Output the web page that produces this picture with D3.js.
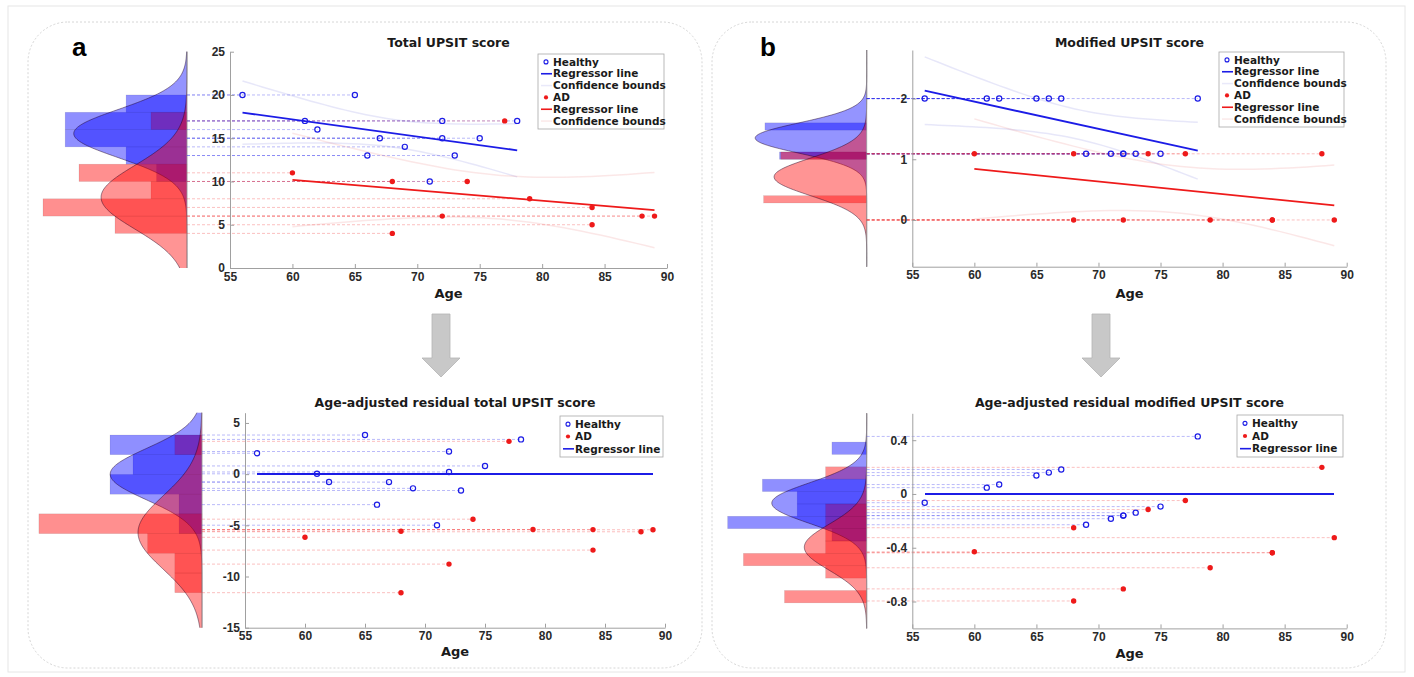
<!DOCTYPE html>
<html><head><meta charset="utf-8">
<script src="https://cdn.jsdelivr.net/npm/d3@7"></script>
<style>
body{margin:0;background:#fff;}
svg{display:block;font-family:"DejaVu Sans",sans-serif;}
.axis text{font-weight:bold;font-size:12px;fill:#2a2a2a;}
.axis path,.axis line{stroke:#a0a0a0;}
.title{font-weight:bold;font-size:12.5px;fill:#1a1a1a;text-anchor:middle;}
.lbl{font-weight:bold;font-size:13px;fill:#1a1a1a;text-anchor:middle;}
.leg{font-weight:bold;font-size:10.5px;fill:#1a1a1a;}
</style></head><body>
<svg id="chart" width="1414" height="677"></svg>
<script>
// ages of each subject
var AGE_H  = [56, 65, 61, 62, 67, 69, 66, 72, 72, 73, 71, 75, 78];
var AGE_AD = [60, 68, 74, 77, 79, 84, 72, 88, 89, 84, 68];

// raw scores
var TOTAL_H  = [20, 20, 17, 16, 15, 14, 13, 17, 15, 13, 10, 15, 17];
var TOTAL_AD = [11, 10, 10, 17, 8, 7, 6, 6, 6, 5, 4];
var MOD_H  = [2, 2, 2, 2, 2, 1.09, 2, 1.09, 1.09, 1.09, 1.09, 1.09, 2];
var MOD_AD = [1.09, 1.09, 1.09, 1.09, 0, 0, 0, 1.09, 0, 0, 0];

// age-adjusted residuals
var RES_TOTAL_H  = [2.04, 3.82, 0.03, -0.77, -0.78, -1.39, -2.98, 2.21, 0.21, -1.60, -4.99, 0.80, 3.39];
var RES_TOTAL_AD = [-6.17, -5.58, -4.40, 3.20, -5.41, -5.42, -8.79, -5.63, -5.43, -7.42, -11.58];
var RES_MOD_H  = [-0.065, 0.137, 0.047, 0.070, 0.182, -0.229, 0.159, -0.161, -0.161, -0.139, -0.184, -0.094, 0.428];
var RES_MOD_AD = [-0.430, -0.251, -0.116, -0.049, -0.549, -0.437, -0.706, 0.198, -0.325, -0.437, -0.796];

// histogram bins (edges) and counts per group, bottom bin first
var HIST_TOTAL_EDGES = [4, 6, 8, 10, 12, 14, 16, 18, 20];
var HIST_TOTAL_H  = [0, 0, 0, 1, 2, 4, 4, 2];
var HIST_TOTAL_AD = [2, 4, 1, 3, 0, 0, 1, 0];
var HIST_RES_TOTAL_EDGES = [-11.58, -9.66, -7.73, -5.81, -3.88, -1.96, -0.03, 1.90, 3.82];
var HIST_RES_TOTAL_H  = [0, 0, 0, 1, 1, 4, 3, 4];
var HIST_RES_TOTAL_AD = [1, 1, 2, 6, 0, 0, 0, 1];
var HIST_MOD_EDGES = [0.28, 0.40, 0.52, 0.64, 0.76, 0.88, 1.00, 1.12, 1.24, 1.36, 1.48, 1.60];
var HIST_MOD_H  = [0, 0, 0, 0, 0, 0, 6, 0, 0, 0, 7];
var HIST_MOD_AD = [6, 0, 0, 0, 0, 0, 5, 0, 0, 0, 0];
var HIST_RES_MOD_EDGES = [-0.810, -0.718, -0.626, -0.534, -0.442, -0.350, -0.258, -0.166, -0.074, 0.018, 0.110, 0.202, 0.294, 0.386];
var HIST_RES_MOD_H  = [0, 0, 0, 0, 0, 1, 4, 2, 2, 3, 0, 0, 1];
var HIST_RES_MOD_AD = [2, 0, 1, 3, 1, 1, 1, 1, 0, 0, 1, 0, 0];

// fitted normal curves: [mean, sd, peak probability]
var CURVE_TOTAL_H  = [15.54, 2.787, 0.286];
var CURVE_TOTAL_AD = [8.18, 3.683, 0.217];
var CURVE_RES_TOTAL_H  = [0, 2.504, 0.307];
var CURVE_RES_TOTAL_AD = [-5.70, 3.584, 0.214];
var CURVE_MOD_H  = [1.35, 0.25, 0.59];
var CURVE_MOD_AD = [0.71, 0.31, 0.49];
var CURVE_RES_MOD_H  = [-0.068, 0.15, 0.21];
var CURVE_RES_MOD_AD = [-0.396, 0.17, 0.138];

// t critical values (95%) for the confidence bounds
var T_CRIT_H = 2.201;   // df = 11
var T_CRIT_AD = 2.262;  // df = 9

var X_TICKS = [55, 60, 65, 70, 75, 80, 85, 90];
var Y_TICKS_TOTAL = [0, 5, 10, 15, 20, 25];
var Y_TICKS_MOD = [0, 1, 2];
var Y_TICKS_RES_TOTAL = [-15, -10, -5, 0, 5];
var Y_TICKS_RES_MOD = [-0.8, -0.4, 0, 0.4];

var TITLES = ["Total UPSIT score", "Age-adjusted residual total UPSIT score",
              "Modified UPSIT score", "Age-adjusted residual modified UPSIT score"];
var LEGEND_FULL = ["Healthy", "Regressor line", "Confidence bounds", "AD", "Regressor line", "Confidence bounds"];
var LEGEND_RES = ["Healthy", "AD", "Regressor line"];

var BLUE = "#1c1ce6", RED = "#ee1a1a";

var svg = d3.select("#chart");

// frames
svg.append("rect").attr("x", 8).attr("y", 6).attr("width", 1397).attr("height", 666)
  .attr("fill", "none").attr("stroke", "#e6e6e6");
[28, 712].forEach(function(px) {
  svg.append("rect").attr("x", px).attr("y", 22).attr("width", 674).attr("height", 646)
    .attr("rx", 40).attr("fill", "none").attr("stroke", "#d6d6d6").attr("stroke-dasharray", "2,2");
});
svg.append("text").attr("x", 72).attr("y", 56).text("a")
  .style("font-family", "Liberation Sans, sans-serif").style("font-weight", "bold").style("font-size", "26px");
svg.append("text").attr("x", 760).attr("y", 56).text("b")
  .style("font-family", "Liberation Sans, sans-serif").style("font-weight", "bold").style("font-size", "26px");

// arrows
[441, 1101].forEach(function(cx) {
  svg.append("path")
    .attr("d", "M" + (cx - 9) + ",314H" + (cx + 9) + "V358H" + (cx + 19) + "L" + cx + ",377L" + (cx - 19) + ",358H" + (cx - 9) + "Z")
    .attr("fill", "#c8c8c8").attr("stroke", "#b4b4b4").attr("stroke-width", 0.8);
});

function fitLine(xs, ys) {
  var n = xs.length, mx = d3.mean(xs), my = d3.mean(ys);
  var sxx = d3.sum(xs, function(v) { return (v - mx) * (v - mx); });
  var sxy = d3.sum(xs, function(v, i) { return (v - mx) * (ys[i] - my); });
  var b = sxx ? sxy / sxx : 0;
  var sse = d3.sum(xs, function(v, i) { var r = ys[i] - (my + b * (v - mx)); return r * r; });
  return { n: n, mx: mx, my: my, sxx: sxx, b: b, s: Math.sqrt(sse / (n - 2)),
           f: function(v) { return my + b * (v - mx); } };
}

var panels = [
  { ageH: AGE_H, valH: TOTAL_H, ageAD: AGE_AD, valAD: TOTAL_AD, full: true,
    xRange: [230, 667], yDomain: [0, 25], yRange: [268, 51.7], yTicks: Y_TICKS_TOTAL,
    histBase: 187, histPx: 396, edges: HIST_TOTAL_EDGES, cH: HIST_TOTAL_H, cAD: HIST_TOTAL_AD,
    curveH: CURVE_TOTAL_H, curveAD: CURVE_TOTAL_AD, title: TITLES[0], titleY: 47, labelY: 298,
    legend: { x: 538, y: 54, w: 126, h: 75 } },
  { ageH: AGE_H, valH: RES_TOTAL_H, ageAD: AGE_AD, valAD: RES_TOTAL_AD, full: false,
    xRange: [245, 665], yDomain: [-15, 6], yRange: [627.7, 412.7], yTicks: Y_TICKS_RES_TOTAL,
    histBase: 202, histPx: 299, edges: HIST_RES_TOTAL_EDGES, cH: HIST_RES_TOTAL_H, cAD: HIST_RES_TOTAL_AD,
    curveH: CURVE_RES_TOTAL_H, curveAD: CURVE_RES_TOTAL_AD, title: TITLES[1], titleY: 407, labelY: 656,
    legend: { x: 560, y: 416, w: 103, h: 41 } },
  { ageH: AGE_H, valH: MOD_H, ageAD: AGE_AD, valAD: MOD_AD, full: true,
    xRange: [912.3, 1346.7], yDomain: [-0.77, 2.8], yRange: [266.7, 50], yTicks: Y_TICKS_MOD,
    histBase: 866.7, histPx: 189, edges: HIST_MOD_EDGES, cH: HIST_MOD_H, cAD: HIST_MOD_AD,
    curveH: CURVE_MOD_H, curveAD: CURVE_MOD_AD, title: TITLES[2], titleY: 47, labelY: 298,
    legend: { x: 1219, y: 52, w: 125, h: 75 } },
  { ageH: AGE_H, valH: RES_MOD_H, ageAD: AGE_AD, valAD: RES_MOD_AD, full: false,
    xRange: [912.3, 1346.7], yDomain: [-1, 0.6], yRange: [628.4, 413.3], yTicks: Y_TICKS_RES_MOD,
    histBase: 866.7, histPx: 452, edges: HIST_RES_MOD_EDGES, cH: HIST_RES_MOD_H, cAD: HIST_RES_MOD_AD,
    curveH: CURVE_RES_MOD_H, curveAD: CURVE_RES_MOD_AD, title: TITLES[3], titleY: 407, labelY: 658,
    legend: { x: 1237, y: 415, w: 106, h: 42 } }
];

panels.forEach(drawPanel);

function drawPanel(p) {
  var g = svg.append("g");
  var x = d3.scaleLinear().domain([55, 90]).range(p.xRange);
  var y = d3.scaleLinear().domain(p.yDomain).range(p.yRange);
  var hx = d3.scaleLinear().domain([0, 1]).range([p.histBase, p.histBase - p.histPx]);

  // histograms (probability normalised)
  function bars(counts, n, fill) {
    g.append("g").selectAll("rect")
      .data(counts.map(function(c, i) { return { lo: p.edges[i], hi: p.edges[i + 1], pr: c / n }; })
        .filter(function(d) { return d.pr > 0; }))
      .enter().append("rect")
      .attr("x", function(d) { return hx(d.pr); })
      .attr("width", function(d) { return p.histBase - hx(d.pr); })
      .attr("y", function(d) { return y(d.hi); })
      .attr("height", function(d) { return y(d.lo) - y(d.hi); })
      .attr("fill", fill).attr("stroke", "rgba(0,0,0,0.12)").attr("stroke-width", 0.6);
  }
  bars(p.cH, p.ageH.length, "rgba(0,0,255,0.44)");
  bars(p.cAD, p.ageAD.length, "rgba(255,0,0,0.44)");

  // fitted normal curves
  var vs = d3.range(201).map(function(i) { return p.yDomain[0] + (p.yDomain[1] - p.yDomain[0]) * i / 200; });
  function curve(c, fill) {
    var pts = vs.map(function(v) { return [v, c[2] * Math.exp(-0.5 * Math.pow((v - c[0]) / c[1], 2))]; });
    g.append("path").datum(pts)
      .attr("d", d3.area().y(function(d) { return y(d[0]); }).x0(p.histBase).x1(function(d) { return hx(d[1]); }))
      .attr("fill", fill);
    g.append("path").datum(pts)
      .attr("d", d3.line().y(function(d) { return y(d[0]); }).x(function(d) { return hx(d[1]); }))
      .attr("fill", "none").attr("stroke", "rgba(30,0,30,0.65)").attr("stroke-width", 0.7);
  }
  curve(p.curveH, "rgba(0,0,255,0.42)");
  curve(p.curveAD, "rgba(255,0,0,0.42)");
  g.append("line").attr("x1", p.histBase).attr("x2", p.histBase)
    .attr("y1", p.yRange[0]).attr("y2", p.yRange[1])
    .attr("stroke", "#9a9a9a").attr("stroke-width", 0.8);

  // dashed guide lines from each point to the histogram
  function guides(ages, vals, col) {
    g.append("g").selectAll("line").data(ages).enter().append("line")
      .attr("x1", p.histBase).attr("x2", function(d) { return x(d); })
      .attr("y1", function(d, i) { return y(vals[i]); }).attr("y2", function(d, i) { return y(vals[i]); })
      .attr("stroke", col).attr("stroke-width", 0.9).attr("stroke-dasharray", "3,2");
  }
  guides(p.ageH, p.valH, "rgba(40,40,235,0.36)");
  guides(p.ageAD, p.valAD, "rgba(240,40,40,0.33)");

  // axes
  g.append("g").attr("class", "axis")
    .attr("transform", "translate(0," + p.yRange[0] + ")")
    .call(d3.axisBottom(x).tickValues(X_TICKS).tickSizeInner(-4).tickSizeOuter(0).tickPadding(4));
  g.append("g").attr("class", "axis")
    .attr("transform", "translate(" + p.xRange[0] + ",0)")
    .call(d3.axisLeft(y).tickValues(p.yTicks).tickSizeInner(-4).tickSizeOuter(0).tickPadding(5)
      .tickFormat(function(d) { return String(d); }));

  var line = d3.line().x(function(d) { return x(d[0]); }).y(function(d) { return y(d[1]); });

  if (p.full) {
    // regression lines with 95% confidence bounds for each group
    [[p.ageH, p.valH, BLUE, "rgba(70,70,210,0.13)", T_CRIT_H],
     [p.ageAD, p.valAD, RED, "rgba(225,70,70,0.13)", T_CRIT_AD]].forEach(function(s) {
      var fit = fitLine(s[0], s[1]);
      var a0 = d3.min(s[0]), a1 = d3.max(s[0]);
      var ages = d3.range(41).map(function(i) { return a0 + (a1 - a0) * i / 40; });
      [1, -1].forEach(function(sign) {
        g.append("path").datum(ages.map(function(a) {
          var hw = s[4] * fit.s * Math.sqrt(1 / fit.n + (a - fit.mx) * (a - fit.mx) / fit.sxx);
          return [a, fit.f(a) + sign * hw];
        })).attr("d", line).attr("fill", "none").attr("stroke", s[3]).attr("stroke-width", 1.5);
      });
      g.append("path").datum([[a0, fit.f(a0)], [a1, fit.f(a1)]])
        .attr("d", line).attr("fill", "none").attr("stroke", s[2]).attr("stroke-width", 1.8);
    });
  } else {
    // residual regression line for healthy group across the whole age range
    var fitR = fitLine(p.ageH, p.valH);
    var all = p.ageH.concat(p.ageAD);
    var r0 = d3.min(all), r1 = d3.max(all);
    g.append("path").datum([[r0, fitR.f(r0)], [r1, fitR.f(r1)]])
      .attr("d", line).attr("fill", "none").attr("stroke", BLUE).attr("stroke-width", 1.8)
      .attr("shape-rendering", "crispEdges");
  }

  // points
  g.append("g").selectAll("circle").data(p.ageH).enter().append("circle")
    .attr("cx", function(d) { return x(d); }).attr("cy", function(d, i) { return y(p.valH[i]); })
    .attr("r", 2.6).attr("fill", "none").attr("stroke", BLUE).attr("stroke-width", 1.2);
  g.append("g").selectAll("circle").data(p.ageAD).enter().append("circle")
    .attr("cx", function(d) { return x(d); }).attr("cy", function(d, i) { return y(p.valAD[i]); })
    .attr("r", 2.7).attr("fill", RED);

  // titles
  var cx = (p.xRange[0] + p.xRange[1]) / 2;
  g.append("text").attr("class", "title").attr("x", cx).attr("y", p.titleY).text(p.title);
  g.append("text").attr("class", "lbl").attr("x", cx).attr("y", p.labelY).text("Age");

  // legend
  var L = p.legend;
  var lg = g.append("g").attr("transform", "translate(" + L.x + "," + L.y + ")");
  lg.append("rect").attr("width", L.w).attr("height", L.h).attr("fill", "#fff").attr("stroke", "#a8a8a8").attr("stroke-width", 0.8);
  var items = p.full ? LEGEND_FULL : LEGEND_RES;
  var kinds = p.full ? ["o", "-", "c", "*", "r", "d"] : ["o", "*", "-"];
  var rowH = (L.h - 4) / items.length;
  items.forEach(function(t, i) {
    var ry = 2 + rowH * (i + 0.5);
    var k = kinds[i];
    if (k === "o") lg.append("circle").attr("cx", 8).attr("cy", ry).attr("r", 2).attr("fill", "none").attr("stroke", BLUE).attr("stroke-width", 1.1);
    if (k === "*") lg.append("circle").attr("cx", 8).attr("cy", ry).attr("r", 2.1).attr("fill", RED);
    if (k === "-" || k === "r") lg.append("line").attr("x1", 3).attr("x2", 14).attr("y1", ry).attr("y2", ry)
      .attr("stroke", k === "-" ? BLUE : RED).attr("stroke-width", 1.6);
    if (k === "c" || k === "d") lg.append("line").attr("x1", 3).attr("x2", 14).attr("y1", ry).attr("y2", ry)
      .attr("stroke", k === "c" ? "rgba(70,70,210,0.12)" : "rgba(225,70,70,0.12)").attr("stroke-width", 1.5);
    lg.append("text").attr("class", "leg").attr("x", 15).attr("y", ry).attr("dy", "0.35em").text(t);
  });
}
</script></body></html>
